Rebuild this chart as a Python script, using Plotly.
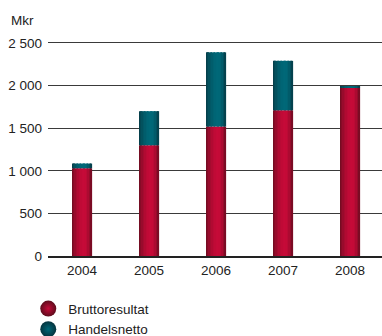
import plotly.graph_objects as go

# Data (Mkr)
years = [2004, 2005, 2006, 2007, 2008]
bruttoresultat = [1030, 1300, 1520, 1710, 1975]
handelsnetto = [55, 400, 870, 580, 15]

y_tickvals = [0, 500, 1000, 1500, 2000, 2500]
y_ticktext = ["0", "500", "1 000", "1 500", "2 000", "2 500"]

series_names = ["Bruttoresultat", "Handelsnetto"]
# (edge colour, peak colour) for the cylinder-like shading
shades = {
    "Bruttoresultat": ((94, 12, 28), (198, 10, 56)),
    "Handelsnetto": ((6, 52, 62), (0, 104, 120)),
}

FONT = "Liberation Sans, Arial, sans-serif"
BAR_W = 20 / 67          # bar width in x units
N_STRIPS = 14
PEAK = 0.62              # horizontal position of the highlight


def strip_color(edge, peak, t):
    if t <= PEAK:
        f = t / PEAK
    else:
        f = (1 - t) / (1 - PEAK)
    f = 1 - (1 - f) ** 2
    f = 0.12 + 0.88 * f
    r, g, b = (round(e + (p - e) * f) for e, p in zip(edge, peak))
    return f"rgb({r},{g},{b})"


fig = go.Figure()

bases = {
    "Bruttoresultat": [0] * len(years),
    "Handelsnetto": bruttoresultat,
}
values = {"Bruttoresultat": bruttoresultat, "Handelsnetto": handelsnetto}

w = BAR_W / N_STRIPS
for name in series_names:
    edge, peak = shades[name]
    for i in range(N_STRIPS):
        t = (i + 0.5) / N_STRIPS
        fig.add_trace(go.Bar(
            x=years, y=values[name], base=bases[name],
            offset=-BAR_W / 2 + i * w, width=w * 1.08,
            marker=dict(color=strip_color(edge, peak, t), line=dict(width=0)),
            showlegend=False, hoverinfo="skip",
        ))

# Legend entries with shaded round markers (bright centre, dark rim)
for name in series_names:
    edge, peak = shades[name]
    fig.add_trace(go.Scatter(
        x=[None], y=[None], mode="markers", name=name,
        marker=dict(symbol="circle", size=16,
                    color="rgb(%d,%d,%d)" % edge,
                    gradient=dict(type="radial", color="rgb(%d,%d,%d)" % peak),
                    line=dict(width=0)),
    ))

fig.add_annotation(
    text="Mkr", xref="paper", yref="paper", x=0, y=1.044,
    xanchor="left", yanchor="middle", xshift=-39, showarrow=False,
    font=dict(family=FONT, size=13.5, color="#222"),
)

fig.update_layout(
    width=382, height=336,
    margin=dict(l=48, r=0, t=30, b=80, autoexpand=False),
    barmode="overlay",
    plot_bgcolor="white", paper_bgcolor="white",
    font=dict(family=FONT, size=13.5, color="#222"),
    showlegend=True,
    legend=dict(
        xref="container", yref="container",
        x=0.074, y=0.127, xanchor="left", yanchor="top",
        bgcolor="rgba(0,0,0,0)", tracegroupgap=0,
        font=dict(family=FONT, size=13.5, color="#222"),
    ),
    xaxis=dict(
        range=[2004 - 34 / 67, 2004 - 34 / 67 + 334 / 67],
        tickvals=years, ticktext=[str(y) for y in years],
        showgrid=False, zeroline=False,
        showline=True, linecolor="#222", linewidth=2,
        ticks="", ticklabelstandoff=1,
    ),
    yaxis=dict(
        range=[0, 2652],
        tickvals=y_tickvals, ticktext=y_ticktext,
        showgrid=True, gridcolor="#3a3a3a", gridwidth=1,
        zeroline=False, showline=False,
        ticks="", ticklabelstandoff=5,
    ),
)

fig.write_html("out.html")
